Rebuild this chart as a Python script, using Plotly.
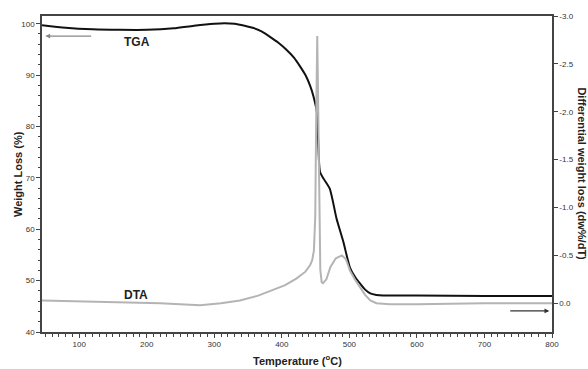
import plotly.graph_objects as go

# TGA (weight %, left axis)
tga_T = [45, 80, 120, 160, 200, 240, 270, 300, 315, 330, 345, 357, 370, 382, 395, 408, 418, 427, 435, 442, 447, 452, 454, 456.5, 462, 471, 481, 491, 501, 509, 516, 523, 531, 540, 550, 600, 700, 800]
tga_W = [99.7, 99.2, 98.9, 98.8, 98.8, 99.1, 99.6, 100.0, 100.1, 100.0, 99.6, 99.2, 98.5, 97.5, 96.3, 94.8, 93.4, 91.7, 90.0, 87.9, 85.8, 82.7, 76.5, 71.2, 69.8, 67.9, 62.1, 57.6, 52.5, 50.6, 49.4, 48.3, 47.5, 47.2, 47.1, 47.1, 47.0, 47.0]

# DTA (dw%/dT, right axis)
dta_T = [45, 100, 165, 220, 279, 310, 338, 365, 387, 405, 422, 435, 442, 445, 447.5, 449.5, 451, 452.5, 454, 455.5, 457, 459, 461, 466, 472, 480, 489, 495, 501, 508, 516, 523, 531, 540, 560, 600, 700, 800]
dta_D = [-0.03, -0.02, -0.01, 0.0, 0.02, 0.0, -0.03, -0.08, -0.14, -0.19, -0.26, -0.33, -0.40, -0.45, -0.55, -0.9, -2.0, -2.79, -2.0, -0.9, -0.35, -0.22, -0.21, -0.25, -0.38, -0.47, -0.50, -0.46, -0.34, -0.25, -0.17, -0.09, -0.03, 0.0, 0.01, 0.01, 0.0, 0.0]

x_ticks = [100, 200, 300, 400, 500, 600, 700, 800]
left_ticks = [40, 50, 60, 70, 80, 90, 100]
right_ticks = [0.0, -0.5, -1.0, -1.5, -2.0, -2.5, -3.0]

tickfont = dict(family="Liberation Sans Narrow, Arial Narrow, Liberation Sans", size=8, color="#333")
axcol = "#444"

fig = go.Figure()
fig.add_trace(go.Scatter(x=dta_T, y=dta_D, mode="lines", yaxis="y2",
                         line=dict(color="#b4b4b4", width=2), showlegend=False))
fig.add_trace(go.Scatter(x=tga_T, y=tga_W, mode="lines",
                         line=dict(color="#111", width=2, shape="spline", smoothing=0.6), showlegend=False))

fig.update_layout(
    width=588, height=369,
    margin=dict(l=42, r=36, t=12, b=37),
    paper_bgcolor="white", plot_bgcolor="white",
    xaxis=dict(range=[45, 800], tickvals=x_ticks, ticktext=[str(v) for v in x_ticks],
               ticks="outside", ticklen=4, tickwidth=1.2, tickcolor=axcol,
               minor=dict(dtick=10, ticks="outside", ticklen=3, tickcolor=axcol),
               showline=True, linecolor=axcol, linewidth=1.5, mirror=True,
               showgrid=False, zeroline=False, tickfont=tickfont),
    yaxis=dict(range=[40, 101.5], tickvals=left_ticks, ticktext=[str(v) for v in left_ticks],
               ticks="outside", ticklen=4, tickwidth=1.2, tickcolor=axcol,
               minor=dict(dtick=2, ticks="outside", ticklen=2.5, tickcolor=axcol),
               showline=True, linecolor=axcol, linewidth=1.5,
               showgrid=False, zeroline=False, tickfont=tickfont),
    yaxis2=dict(range=[0.3, -3.0], overlaying="y", side="right",
                tickvals=right_ticks, ticktext=[f"{v:.1f}" for v in right_ticks],
                ticks="outside", ticklen=4, tickwidth=1.2, tickcolor=axcol,
                showline=True, linecolor=axcol, linewidth=1.5,
                showgrid=False, zeroline=False, tickfont=tickfont),
)

bold = dict(family="Liberation Sans", size=11, color="#222")
fig.add_annotation(text="<b>Temperature (<sup>o</sup>C)</b>", xref="paper", yref="paper",
                   x=0.5, y=-0.09, xanchor="center", yanchor="middle", showarrow=False, font=bold)
fig.add_annotation(text="<b>Weight Loss (%)</b>", xref="paper", yref="paper",
                   x=-0.047, y=0.5, xanchor="center", yanchor="middle", textangle=-90,
                   showarrow=False, font=bold)
fig.add_annotation(text="<b>Differential weight loss (dw%/dT)</b>", xref="paper", yref="paper",
                   x=1.058, y=0.5, xanchor="center", yanchor="middle", textangle=90,
                   showarrow=False, font=bold)
fig.add_annotation(text="<b>TGA</b>", x=186, y=96.5, showarrow=False,
                   font=dict(family="Liberation Sans Narrow, Liberation Sans", size=12, color="#222"))
fig.add_annotation(text="<b>DTA</b>", x=184, y=-0.09, yref="y2", showarrow=False,
                   font=dict(family="Liberation Sans Narrow, Liberation Sans", size=12, color="#222"))
# arrows
fig.add_annotation(x=50, y=97.6, ax=120, ay=97.6, xref="x", yref="y", axref="x", ayref="y",
                   text="", showarrow=True, arrowhead=2, arrowsize=0.8, arrowwidth=1.2, arrowcolor="#888")
fig.add_annotation(x=796, y=0.08, ax=736, ay=0.08, xref="x", yref="y2", axref="x", ayref="y2",
                   text="", showarrow=True, arrowhead=2, arrowsize=0.8, arrowwidth=1.2, arrowcolor="#333")

fig.write_html("out.html")
